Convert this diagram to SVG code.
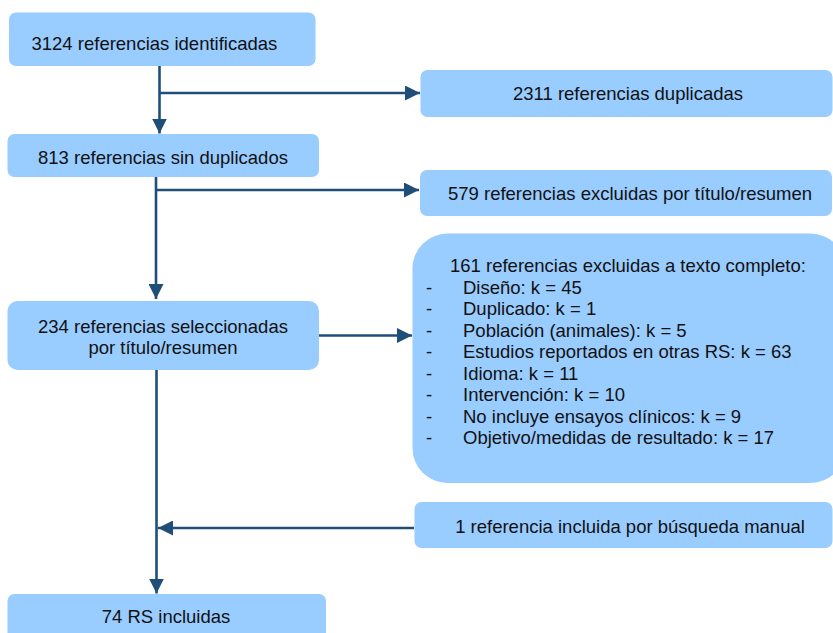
<svg xmlns="http://www.w3.org/2000/svg" width="833" height="633" viewBox="0 0 833 633">
<style>
.box{fill:#99CCFF;}
.t{font-family:"Liberation Sans",Arial,sans-serif;font-size:18.5px;fill:#111;}
.c{text-anchor:middle;}
.ln{stroke:#1F4E79;stroke-width:2.6;fill:none;}
</style>
<defs>
<marker id="ah" viewBox="0 0 15 15" refX="15" refY="7.5" markerWidth="15" markerHeight="15" markerUnits="userSpaceOnUse" orient="auto">
<path d="M0,0 L15,7.5 L0,15 z" fill="#1F4E79"/>
</marker>
</defs>
<rect width="833" height="633" fill="#fff"/>
<g id="connectors">
<line class="ln" x1="159.5" y1="66" x2="159.5" y2="133.5" marker-end="url(#ah)"/>
<line class="ln" x1="159.5" y1="93" x2="420" y2="93" marker-end="url(#ah)"/>
<line class="ln" x1="156" y1="177" x2="156" y2="299" marker-end="url(#ah)"/>
<line class="ln" x1="156" y1="190" x2="419" y2="190" marker-end="url(#ah)"/>
<line class="ln" x1="319" y1="335.5" x2="412" y2="335.5" marker-end="url(#ah)"/>
<line class="ln" x1="156.5" y1="370" x2="156.5" y2="593.5" marker-end="url(#ah)"/>
<line class="ln" x1="414" y1="528" x2="158" y2="528" marker-end="url(#ah)"/>
</g>
<g id="n1">
<rect class="box" x="9" y="12.5" width="306.5" height="53.5" rx="7"/>
<text class="t" x="31.5" y="49.5">3124 referencias identificadas</text>
</g>
<g id="n2">
<rect class="box" x="420.5" y="70" width="412" height="47" rx="7"/>
<text class="t c" x="628" y="99.5">2311 referencias duplicadas</text>
</g>
<g id="n3">
<rect class="box" x="7.5" y="134" width="311.5" height="43" rx="7"/>
<text class="t c" x="163" y="163.5">813 referencias sin duplicados</text>
</g>
<g id="n4">
<rect class="box" x="420" y="170" width="412" height="46" rx="7"/>
<text class="t c" x="630" y="199.5">579 referencias excluidas por título/resumen</text>
</g>
<g id="n5">
<rect class="box" x="7.5" y="301" width="311.5" height="69" rx="10"/>
<text class="t c" x="163" y="332.5">234 referencias seleccionadas</text>
<text class="t c" x="163" y="353.5">por título/resumen</text>
</g>
<g id="n6">
<rect class="box" x="412.5" y="233.5" width="433" height="249.5" rx="35"/>
<text class="t" x="450" y="271.5">161 referencias excluidas a texto completo:</text>
<g class="t">
<text x="426" y="293.5">-</text><text x="463" y="293.5">Diseño: k = 45</text>
<text x="426" y="315">-</text><text x="463" y="315">Duplicado: k = 1</text>
<text x="426" y="336.5">-</text><text x="463" y="336.5">Población (animales): k = 5</text>
<text x="426" y="358">-</text><text x="463" y="358">Estudios reportados en otras RS: k = 63</text>
<text x="426" y="379.5">-</text><text x="463" y="379.5">Idioma: k = 11</text>
<text x="426" y="401">-</text><text x="463" y="401">Intervención: k = 10</text>
<text x="426" y="422.5">-</text><text x="463" y="422.5">No incluye ensayos clínicos: k = 9</text>
<text x="426" y="444">-</text><text x="463" y="444">Objetivo/medidas de resultado: k = 17</text>
</g>
</g>
<g id="n7">
<rect class="box" x="414.5" y="502" width="418" height="46" rx="7"/>
<text class="t c" x="630" y="532.5">1 referencia incluida por búsqueda manual</text>
</g>
<g id="n8">
<rect class="box" x="7.5" y="594" width="318.5" height="50" rx="7"/>
<text class="t c" x="166" y="623">74 RS incluidas</text>
</g>
</svg>
